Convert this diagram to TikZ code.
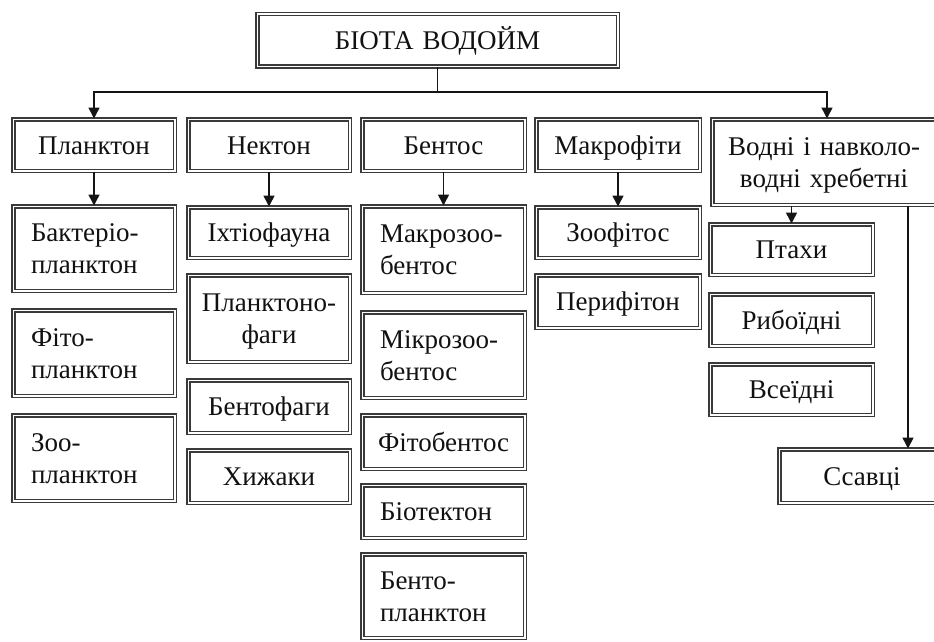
\documentclass[tikz,border=0pt]{standalone}
\usepackage{fontspec}
\setmainfont{Liberation Serif}
\usetikzlibrary{arrows.meta}
\definecolor{boxgray}{HTML}{3A3A3A}
\definecolor{linec}{HTML}{151515}
\definecolor{txt}{HTML}{111111}
\newcommand\Sh{\rule{0pt}{26pt}}
\newcommand\Sd{\rule[-8pt]{0pt}{8pt}}
\tikzset{
  bx/.style={draw=boxgray, double=white, line width=1.5pt, double distance=1.5pt,
    inner sep=0pt, font=\fontsize{27}{32}\selectfont, text=txt},
  arr/.style={draw=linec, line width=1.6pt, -{Triangle[width=11pt,length=11pt]}},
  ln/.style={draw=linec, line width=1.6pt}
}
% name, left, top, right, bottom, align, margin, text
\newcommand\mybox[8]{%
  \pgfmathsetmacro\cx{(#2+#4)/2}\pgfmathsetmacro\cy{(#3+#5)/2}%
  \pgfmathsetmacro\ww{#4-#2-4.5}\pgfmathsetmacro\hh{#5-#3-4.5}\pgfmathsetmacro\tw{#4-#2-#7}%
  \node[bx, minimum width=\ww pt, minimum height=\hh pt, text width=\tw pt, align=#6] (#1) at (\cx,\cy) {#8};}
\begin{document}
\begin{tikzpicture}[x=1pt,y=-1pt]
\useasboundingbox[fill=white] (0,0) rectangle (934,642);
\mybox{top}{255}{12}{620}{69}{center}{20}{\Sh\Sd БІОТА ВОДОЙМ}
% row 1
\mybox{plank}{11}{117}{177}{173}{center}{6}{\Sh\Sd Планктон}
\mybox{nekt}{186}{117}{352}{173}{center}{6}{\Sh\Sd Нектон}
\mybox{bent}{360}{117}{527}{173}{center}{6}{\Sh\Sd Бентос}
\mybox{makro}{534}{117}{702}{173}{center}{6}{\Sh\Sd Макрофіти}
\mybox{vodni}{710}{117}{938}{207}{center}{6}{\Sh Водні і навколо-\\\Sd водні хребетні}
% column 1
\mybox{bakt}{11}{204}{177}{293}{left}{40}{\Sh Бактеріо-\\\Sd планктон}
\mybox{fito}{11}{308}{177}{398}{left}{40}{\Sh Фіто-\\\Sd планктон}
\mybox{zoo}{11}{413}{177}{503}{left}{40}{\Sh Зоо-\\\Sd планктон}
% column 2
\mybox{ikht}{186}{205}{352}{260}{center}{6}{\Sh\Sd Іхтіофауна}
\mybox{plfag}{186}{273}{352}{364}{center}{6}{\Sh Планктоно-\\\Sd фаги}
\mybox{bfag}{186}{378}{352}{435}{center}{6}{\Sh\Sd Бентофаги}
\mybox{khyzh}{186}{448}{352}{505}{center}{6}{\Sh\Sd Хижаки}
% column 3
\mybox{mkzb}{360}{204}{527}{295}{left}{40}{\Sh Макрозоо-\\\Sd бентос}
\mybox{mczb}{360}{310}{527}{400}{left}{40}{\Sh Мікрозоо-\\\Sd бентос}
\mybox{fitb}{360}{413}{527}{471}{left}{36}{\Sh\Sd Фітобентос}
\mybox{biot}{360}{483}{527}{540}{left}{40}{\Sh\Sd Біотектон}
\mybox{bpl}{360}{552}{527}{640}{left}{40}{\Sh Бенто-\\\Sd планктон}
% column 4
\mybox{zoof}{534}{205}{702}{260}{center}{6}{\Sh\Sd Зоофітос}
\mybox{perif}{534}{273}{702}{330}{center}{6}{\Sh\Sd Перифітон}
% column 5
\mybox{ptakh}{708}{222}{875}{277}{center}{6}{\Sh\Sd Птахи}
\mybox{ryb}{708}{292}{875}{348}{center}{6}{\Sh\Sd Рибоїдні}
\mybox{vse}{708}{362}{875}{417}{center}{6}{\Sh\Sd Всеїдні}
\mybox{ssav}{777}{447}{947}{505}{center}{6}{\Sh\Sd Ссавці}
% connectors
\coordinate (jM) at (437.5,92);
\coordinate (jR) at (827,92);
\coordinate (sv) at (908,0);
\draw[ln] (top.south) -- (jM);
\draw[arr] (jM) -| (plank.north);
\draw[arr] (jM) -- (jR) -- (jR |- vodni.north);
\draw[arr] (plank.south) -- (bakt.north);
\draw[arr] (nekt.south) -- (ikht.north);
\draw[arr] (bent.south) -- (mkzb.north);
\draw[arr] (makro.south) -- (zoof.north);
\draw[arr] (ptakh.north |- vodni.south) -- (ptakh.north);
\draw[arr] (sv |- vodni.south) -- (sv |- ssav.north);
\end{tikzpicture}
\end{document}
